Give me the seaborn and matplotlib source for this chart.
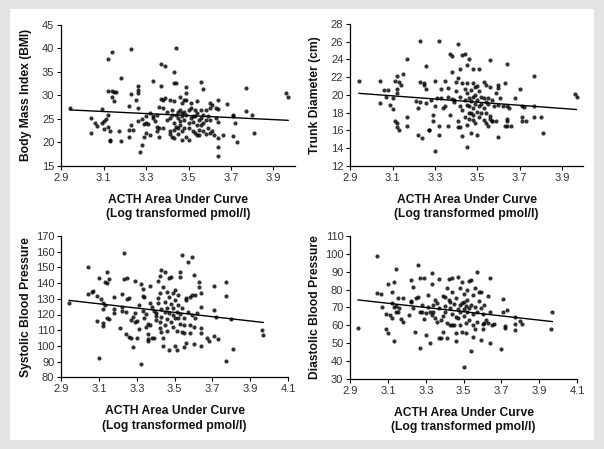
import matplotlib
matplotlib.use("Agg")
import matplotlib.pyplot as plt
import seaborn as sns
import pandas as pd
from matplotlib.patches import Rectangle

# ---------------- data ----------------
bmi_x = [2.94,3.04,3.04,3.06,3.07,3.09,3.09,3.10,3.10,3.11,3.12,3.12,3.12,3.12,3.13,3.13,3.13,3.14,3.14,3.15,
         3.16,3.15,3.14,3.17,3.18,3.18,3.22,3.22,3.22,3.23,3.23,3.23,3.24,3.25,3.26,3.26,3.26,3.26,3.26,3.27,
         3.28,3.28,3.29,3.29,3.30,3.30,3.30,3.31,3.32,3.32,3.33,3.33,3.33,3.34,3.35,3.35,3.35,3.36,3.36,3.36,
         3.37,3.37,3.37,3.38,3.38,3.38,3.39,3.39,3.40,3.40,3.41,3.41,3.41,3.41,3.42,3.42,3.42,3.43,3.43,3.43,
         3.43,3.43,3.43,3.44,3.44,3.44,3.44,3.45,3.45,3.45,3.45,3.46,3.46,3.46,3.46,3.47,3.47,3.47,3.47,3.47,
         3.48,3.48,3.48,3.48,3.49,3.49,3.49,3.49,3.49,3.50,3.50,3.50,3.50,3.51,3.51,3.51,3.52,3.52,3.52,3.53,
         3.53,3.53,3.54,3.54,3.54,3.54,3.55,3.55,3.55,3.56,3.56,3.56,3.56,3.57,3.57,3.57,3.57,3.58,3.58,3.58,
         3.59,3.59,3.60,3.60,3.60,3.60,3.61,3.61,3.62,3.63,3.63,3.64,3.64,3.64,3.64,3.64,3.64,3.66,3.68,3.71,
         3.71,3.71,3.72,3.73,3.77,3.77,3.80,3.81,3.96,3.97]
bmi_y = [27.2,25.2,22.0,24.2,23.5,27.1,24.2,24.6,22.8,24.9,37.7,25.8,31.0,23.3,20.5,20.3,22.4,31.0,39.3,30.8,
         30.8,28.9,29.7,22.5,33.6,20.3,22.6,27.7,21.2,23.6,39.9,30.3,22.6,29.0,30.4,32.0,31.1,27.4,24.6,17.9,
         19.4,25.0,23.9,21.2,22.0,25.5,24.2,23.9,21.5,26.2,25.1,33.1,25.6,24.6,23.3,22.3,25.8,21.2,23.0,27.6,
         32.0,29.3,36.6,27.2,23.0,29.0,36.3,29.4,24.7,26.5,21.8,25.1,29.0,22.3,21.2,26.9,25.8,28.7,24.0,34.9,
         32.6,22.6,20.8,40.2,32.7,25.8,23.3,26.5,25.1,23.0,21.8,29.7,26.9,24.6,23.7,20.5,22.3,26.2,28.3,25.5,
         23.0,29.0,26.5,24.7,21.2,30.4,31.7,29.0,25.8,24.0,20.5,26.9,23.0,25.1,27.2,28.3,25.6,22.3,24.4,26.9,
         25.5,21.9,23.7,26.2,21.5,28.7,24.7,22.6,21.5,26.9,32.9,23.7,25.1,31.3,22.3,25.8,24.0,21.8,26.9,24.7,
         23.0,25.5,21.9,27.2,28.3,24.7,27.9,22.3,21.5,25.1,27.4,29.0,24.3,21.0,18.9,17.1,27.1,21.5,28.2,25.8,
         21.3,25.5,24.0,20.1,31.5,26.7,25.8,21.9,30.6,29.7]

trunk_x = [2.94,3.04,3.04,3.06,3.07,3.08,3.09,3.10,3.10,3.11,3.12,3.12,3.11,3.12,3.12,3.13,3.12,3.13,3.14,3.15,
           3.17,3.17,3.17,3.21,3.22,3.22,3.23,3.23,3.23,3.24,3.25,3.25,3.26,3.26,3.26,3.27,3.27,3.28,3.29,3.29,
           3.30,3.30,3.30,3.31,3.32,3.32,3.32,3.33,3.33,3.34,3.35,3.35,3.36,3.36,3.36,3.37,3.37,3.38,3.38,3.38,
           3.39,3.39,3.40,3.40,3.41,3.41,3.41,3.41,3.42,3.42,3.42,3.42,3.43,3.43,3.43,3.43,3.44,3.44,3.44,3.44,
           3.45,3.45,3.45,3.45,3.45,3.45,3.46,3.46,3.46,3.46,3.46,3.47,3.47,3.47,3.47,3.48,3.48,3.48,3.48,3.48,
           3.48,3.49,3.49,3.49,3.49,3.50,3.50,3.50,3.50,3.51,3.51,3.51,3.51,3.52,3.52,3.52,3.53,3.53,3.53,3.53,
           3.54,3.54,3.54,3.54,3.55,3.55,3.55,3.56,3.56,3.56,3.56,3.57,3.57,3.57,3.58,3.59,3.59,3.60,3.60,3.60,
           3.60,3.61,3.62,3.63,3.63,3.64,3.64,3.64,3.64,3.64,3.65,3.66,3.68,3.70,3.71,3.71,3.71,3.72,3.73,3.77,
           3.77,3.77,3.80,3.81,3.96,3.97]
trunk_y = [21.6,21.6,19.1,20.6,19.8,20.6,18.9,18.4,19.6,21.6,20.7,20.2,17.0,16.8,16.4,16.0,22.1,21.5,21.1,22.4,
           16.5,17.5,24.1,19.3,15.5,18.5,26.1,19.2,21.4,15.1,21.1,21.3,23.3,19.1,20.7,16.0,16.0,19.4,17.7,17.0,
           18.7,21.6,13.7,19.6,15.5,16.5,26.1,20.7,19.6,18.5,18.7,21.6,16.5,19.8,20.8,24.6,17.7,22.6,19.5,24.4,
           19.4,19.2,20.4,21.5,17.0,21.9,16.4,25.7,18.7,22.9,16.4,19.8,15.3,24.5,21.3,18.3,24.6,20.7,17.5,19.4,
           20.2,23.4,16.6,14.1,18.9,21.3,17.9,19.6,24.1,17.3,18.7,20.5,15.7,18.0,19.3,22.9,17.2,21.3,18.5,19.8,
           17.7,20.9,19.0,16.8,20.0,18.1,15.5,21.0,19.4,17.5,22.9,18.7,20.4,19.8,17.9,19.0,21.4,17.2,19.6,18.5,
           21.1,16.8,19.2,17.9,16.5,19.0,19.6,17.6,20.9,23.9,17.3,17.0,19.4,17.0,18.7,17.0,20.2,21.1,15.2,20.8,
           18.9,19.6,18.7,21.3,16.5,23.5,18.7,17.3,17.0,16.5,18.5,16.5,19.6,20.7,18.7,17.5,17.0,18.6,17.0,22.1,
           18.7,17.5,17.5,15.7,20.1,19.8]

sys_x = [2.94,3.04,3.04,3.06,3.07,3.09,3.09,3.10,3.10,3.11,3.12,3.12,3.12,3.12,3.13,3.13,3.14,3.14,3.14,3.15,
         3.15,3.18,3.18,3.18,3.21,3.22,3.22,3.22,3.23,3.23,3.24,3.24,3.25,3.25,3.26,3.26,3.27,3.27,3.28,3.28,
         3.29,3.29,3.29,3.30,3.30,3.31,3.31,3.32,3.32,3.33,3.33,3.33,3.34,3.34,3.35,3.35,3.36,3.36,3.36,3.36,
         3.37,3.37,3.37,3.38,3.38,3.39,3.39,3.40,3.40,3.40,3.41,3.41,3.41,3.42,3.42,3.42,3.42,3.43,3.43,3.43,
         3.43,3.44,3.44,3.44,3.45,3.45,3.45,3.45,3.46,3.46,3.46,3.46,3.47,3.47,3.47,3.47,3.48,3.48,3.48,3.49,
         3.49,3.49,3.49,3.50,3.50,3.50,3.50,3.51,3.51,3.51,3.52,3.52,3.52,3.53,3.53,3.53,3.53,3.54,3.54,3.54,
         3.55,3.55,3.55,3.55,3.56,3.56,3.56,3.57,3.57,3.58,3.58,3.58,3.59,3.59,3.59,3.60,3.60,3.60,3.61,3.61,
         3.62,3.63,3.63,3.64,3.64,3.64,3.64,3.64,3.67,3.68,3.71,3.71,3.71,3.72,3.73,3.77,3.77,3.77,3.80,3.81,
         3.96,3.97]
sys_y = [127.1,150.0,133.1,134.6,135.2,132.0,116.1,92.1,143.3,129.9,127.1,114.4,123.5,112.9,126.1,140.9,139.9,146.9,118.0,142.4,
         117.1,123.5,131.4,120.8,111.2,133.1,125.0,122.2,159.0,142.4,107.4,121.8,129.9,143.0,105.9,130.7,105.0,116.5,99.3,118.6,
         141.6,115.4,120.8,105.0,115.9,126.1,110.6,88.3,139.2,132.0,136.2,122.2,117.6,131.4,120.1,112.3,104.4,107.4,103.1,114.2,
         127.1,138.2,113.3,125.0,105.3,104.8,122.2,120.8,116.5,119.3,130.7,127.1,141.3,111.2,133.5,115.4,144.7,109.1,123.5,148.4,
         118.6,104.8,137.7,100.2,113.3,121.4,147.3,128.2,109.5,117.1,134.6,123.9,143.5,120.8,131.4,97.4,115.4,126.5,144.1,119.7,
         133.5,112.3,123.9,100.2,129.2,117.6,135.6,97.4,121.4,109.5,126.1,117.6,132.4,147.3,113.7,144.1,120.1,157.9,109.1,123.9,
         113.3,99.5,108.0,118.0,130.7,101.6,129.2,153.2,121.8,113.3,131.4,108.0,156.8,119.7,132.4,145.2,101.0,112.3,132.4,117.6,
         120.8,137.7,140.9,125.0,111.2,108.0,100.2,133.5,105.3,103.1,138.2,122.9,106.3,118.6,104.2,140.9,132.0,90.4,117.1,98.0,
         110.1,107.0]

dia_x = [2.94,3.04,3.04,3.06,3.07,3.09,3.09,3.10,3.10,3.11,3.12,3.12,3.12,3.13,3.13,3.13,3.14,3.14,3.14,3.15,
         3.15,3.16,3.17,3.18,3.18,3.21,3.22,3.22,3.22,3.23,3.23,3.24,3.25,3.26,3.26,3.27,3.27,3.27,3.28,3.28,
         3.29,3.29,3.30,3.30,3.31,3.31,3.32,3.32,3.33,3.33,3.33,3.34,3.34,3.35,3.35,3.36,3.36,3.37,3.37,3.37,
         3.38,3.38,3.39,3.39,3.39,3.40,3.40,3.40,3.41,3.41,3.41,3.42,3.42,3.43,3.43,3.43,3.44,3.44,3.44,3.44,
         3.45,3.45,3.46,3.46,3.46,3.46,3.47,3.47,3.47,3.48,3.48,3.48,3.48,3.49,3.49,3.49,3.50,3.50,3.50,3.50,
         3.50,3.51,3.51,3.51,3.52,3.52,3.52,3.53,3.53,3.53,3.54,3.54,3.54,3.55,3.55,3.55,3.55,3.56,3.56,3.56,
         3.57,3.57,3.57,3.58,3.58,3.59,3.59,3.59,3.60,3.60,3.60,3.61,3.61,3.62,3.63,3.63,3.64,3.64,3.64,3.65,
         3.66,3.70,3.71,3.71,3.72,3.72,3.73,3.77,3.77,3.77,3.80,3.81,3.96,3.97]
dia_y = [58.2,99.0,78.2,77.3,70.4,66.1,57.7,82.9,55.4,65.7,72.2,78.4,64.2,70.4,84.0,51.1,67.2,91.3,70.9,67.2,
         75.0,69.4,63.5,62.0,75.0,65.7,73.6,73.2,85.3,81.2,69.8,56.4,75.0,93.7,76.0,67.2,47.4,86.3,67.2,71.3,
         86.3,63.5,54.5,66.6,76.9,70.4,49.8,67.2,89.1,82.9,65.7,71.3,67.2,74.1,64.2,72.2,61.6,69.4,52.6,85.9,
         62.9,52.6,65.3,76.5,56.4,70.9,76.0,67.2,52.6,61.0,80.7,74.1,85.9,60.1,69.4,72.8,86.6,60.1,66.1,78.4,
         71.7,60.1,64.8,51.1,75.0,55.4,69.1,87.2,63.8,71.3,80.7,60.1,67.2,84.4,72.2,56.4,69.1,36.4,77.3,65.3,
         72.8,55.4,61.0,70.9,79.7,67.2,74.1,84.8,62.9,69.4,45.5,85.3,71.3,60.1,53.6,66.1,76.9,70.4,57.9,80.7,
         90.0,67.2,62.0,73.6,78.8,69.4,51.7,78.8,60.5,66.1,57.9,61.0,71.3,62.9,76.5,61.0,86.3,67.2,49.8,60.1,
         60.5,46.6,74.5,67.2,58.6,59.5,68.5,64.4,60.5,57.3,62.5,60.5,57.9,67.2]

xlabel_text = "ACTH Area Under Curve\n(Log transformed pmol/l)"
ylabels = ["Body Mass Index (BMI)", "Trunk Diameter (cm)", "Systolic Blood Pressure", "Diastolic Blood Pressure"]
top_xticks = [2.9, 3.1, 3.3, 3.5, 3.7, 3.9]
bottom_xticks = [2.9, 3.1, 3.3, 3.5, 3.7, 3.9, 4.1]
bmi_ticks = [15, 20, 25, 30, 35, 40, 45]
trunk_ticks = [12, 14, 16, 18, 20, 22, 24, 26, 28]
sys_ticks = [80, 90, 100, 110, 120, 130, 140, 150, 160, 170]
dia_ticks = [30, 40, 50, 60, 70, 80, 90, 100, 110]

# ---------------- styling ----------------
sns.set_theme(style="white")
plt.rcParams['font.family'] = ['Liberation Sans', 'DejaVu Sans']

W, H = 604, 449
fig = plt.figure(figsize=(W / 100, H / 100), dpi=100, facecolor='#e4e4e4')
fig.patches.append(Rectangle((10 / W, 9 / H), 584 / W, 431 / H, transform=fig.transFigure,
                             facecolor='white', edgecolor='none', zorder=-10))

def px_axes(l, t, r, b):
    ax = fig.add_axes([l / W, 1 - b / H, (r - l) / W, (b - t) / H])
    return ax, (r - l)

panels = [
    (px_axes(61.3, 25.0, 294.7, 165.7), bmi_x, bmi_y, ylabels[0], (2.9, 4.0), top_xticks, bmi_ticks),
    (px_axes(350.3, 24.0, 583.0, 165.7), trunk_x, trunk_y, ylabels[1], (2.9, 4.0), top_xticks, trunk_ticks),
    (px_axes(61.3, 236.0, 288.0, 377.3), sys_x, sys_y, ylabels[2], (2.9, 4.1), bottom_xticks, sys_ticks),
    (px_axes(350.3, 236.0, 577.0, 378.7), dia_x, dia_y, ylabels[3], (2.9, 4.1), bottom_xticks, dia_ticks),
]

for (ax, wpx), xs, ys, ylab, xlim, xt, yt in panels:
    df = pd.DataFrame({"x": xs, "y": ys})
    ax.set_facecolor('none')
    ax.set_zorder(2)
    sns.regplot(data=df, x="x", y="y", ax=ax, ci=None,
                scatter_kws=dict(marker='D', s=9, color='black', linewidths=0),
                line_kws=dict(color='black', lw=1.0))
    ax.set_xlim(*xlim)
    ax.set_ylim(yt[0], yt[-1])
    ax.set_xticks(xt)
    ax.set_yticks(yt)
    ax.set_xticklabels([f"{v:.1f}" for v in xt])
    ax.set_yticklabels([str(v) for v in yt])
    for s in ['top', 'right']:
        ax.spines[s].set_visible(False)
    for s in ['left', 'bottom']:
        ax.spines[s].set_color('black')
        ax.spines[s].set_linewidth(0.9)
    ax.tick_params(axis='both', which='major', direction='out', length=3, width=0.8,
                   color='black', labelsize=8, labelcolor='#333333', pad=2,
                   bottom=True, left=True)
    ax.set_xlabel(xlabel_text, fontsize=8.7, fontweight='bold', labelpad=8,
                  linespacing=1.25, color='#111111')
    ax.set_ylabel(ylab, fontsize=8.7, fontweight='bold', color='#111111')
    ax.yaxis.set_label_coords(-29.0 / wpx, 0.5)

fig.savefig("out.png", dpi=100, facecolor=fig.get_facecolor())
